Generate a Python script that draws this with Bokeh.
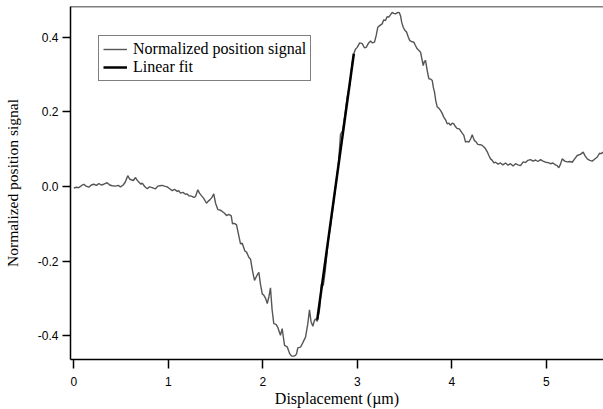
from bokeh.plotting import figure
from bokeh.models import Range1d, FixedTicker, Span, Legend, LegendItem
from bokeh.embed import file_html
from bokeh.resources import INLINE

displacement_um = [
    0.000, 0.027, 0.053, 0.080, 0.106, 0.130, 0.159, 0.185, 0.212, 0.240,
    0.265, 0.290, 0.317, 0.353, 0.380, 0.406, 0.440, 0.470, 0.494, 0.523,
    0.545, 0.571, 0.590, 0.607, 0.630, 0.653, 0.670, 0.688, 0.710, 0.724,
    0.750, 0.777, 0.800, 0.830, 0.850, 0.865, 0.889, 0.910, 0.935, 0.960,
    0.988, 1.015, 1.041, 1.065, 1.094, 1.110, 1.129, 1.155, 1.182, 1.200,
    1.217, 1.245, 1.270, 1.288, 1.312, 1.330, 1.348, 1.375, 1.404, 1.420,
    1.439, 1.460, 1.481, 1.500, 1.524, 1.545, 1.570, 1.595, 1.616, 1.640,
    1.666, 1.679, 1.700, 1.722, 1.740, 1.764, 1.782, 1.810, 1.828, 1.852,
    1.870, 1.890, 1.912, 1.935, 1.958, 1.975, 1.994, 2.011, 2.030, 2.047,
    2.065, 2.081, 2.098, 2.116, 2.140, 2.159, 2.175, 2.187, 2.205, 2.218,
    2.230, 2.258, 2.275, 2.286, 2.305, 2.328, 2.345, 2.357, 2.370, 2.399,
    2.425, 2.452, 2.475, 2.494, 2.510, 2.529, 2.545, 2.558, 2.576, 2.600,
    2.620, 2.640, 2.660, 2.690, 2.720, 2.760, 2.800, 2.822, 2.845, 2.870,
    2.893, 2.920, 2.945, 2.963, 2.980, 2.999, 3.025, 3.052, 3.075, 3.094,
    3.120, 3.140, 3.160, 3.182, 3.200, 3.217, 3.240, 3.263, 3.280, 3.298,
    3.315, 3.333, 3.350, 3.369, 3.385, 3.404, 3.429, 3.445, 3.457, 3.470,
    3.486, 3.505, 3.521, 3.540, 3.556, 3.580, 3.598, 3.615, 3.634, 3.650,
    3.669, 3.685, 3.697, 3.710, 3.722, 3.740, 3.757, 3.775, 3.793, 3.805,
    3.817, 3.830, 3.846, 3.862, 3.880, 3.898, 3.915, 3.935, 3.951, 3.970,
    3.986, 4.005, 4.021, 4.040, 4.057, 4.075, 4.092, 4.110, 4.127, 4.145,
    4.162, 4.180, 4.200, 4.216, 4.228, 4.240, 4.258, 4.275, 4.300, 4.322,
    4.340, 4.357, 4.375, 4.392, 4.410, 4.428, 4.445, 4.462, 4.490, 4.515,
    4.540, 4.568, 4.595, 4.621, 4.648, 4.674, 4.700, 4.727, 4.755, 4.780,
    4.805, 4.833, 4.860, 4.886, 4.912, 4.939, 4.965, 4.992, 5.020, 5.045,
    5.070, 5.097, 5.115, 5.132, 5.150, 5.168, 5.195, 5.221, 5.248, 5.274,
    5.300, 5.327, 5.360, 5.390, 5.410, 5.433, 5.460, 5.486, 5.510, 5.539,
    5.563, 5.580, 5.602,
]
position_signal = [
    -0.004, -0.002, -0.003, 0.002, 0.006, 0.001, -0.002, 0.004, 0.006, 0.003,
    0.008, 0.004, 0.006, 0.010, 0.004, 0.002, 0.001, 0.003, -0.001, 0.004,
    0.012, 0.029, 0.020, 0.018, 0.016, 0.024, 0.017, 0.012, 0.006, 0.009,
    0.000, -0.006, -0.001, -0.003, -0.005, -0.006, 0.001, 0.002, 0.003, 0.001,
    -0.001, -0.006, -0.011, -0.008, -0.013, -0.011, -0.018, -0.016, -0.021, -0.020,
    -0.025, -0.026, -0.029, -0.027, -0.009, -0.018, -0.024, -0.032, -0.045, -0.040,
    -0.036, -0.030, -0.020, -0.045, -0.062, -0.063, -0.067, -0.072, -0.078, -0.075,
    -0.079, -0.100, -0.099, -0.103, -0.125, -0.154, -0.152, -0.173, -0.176, -0.190,
    -0.195, -0.225, -0.252, -0.240, -0.230, -0.262, -0.288, -0.292, -0.300, -0.314,
    -0.295, -0.272, -0.330, -0.368, -0.370, -0.378, -0.390, -0.399, -0.381, -0.405,
    -0.426, -0.430, -0.442, -0.449, -0.455, -0.455, -0.453, -0.449, -0.433, -0.431,
    -0.418, -0.404, -0.370, -0.331, -0.362, -0.375, -0.360, -0.355, -0.362, -0.330,
    -0.262, -0.265, -0.228, -0.150, -0.100, -0.020, 0.060, 0.140, 0.150, 0.195,
    0.240, 0.272, 0.330, 0.356, 0.368, 0.373, 0.385, 0.383, 0.372, 0.373,
    0.385, 0.390, 0.385, 0.387, 0.405, 0.427, 0.432, 0.436, 0.447, 0.445,
    0.455, 0.454, 0.460, 0.467, 0.464, 0.463, 0.467, 0.466, 0.458, 0.440,
    0.427, 0.418, 0.414, 0.400, 0.391, 0.388, 0.387, 0.378, 0.369, 0.365,
    0.360, 0.340, 0.324, 0.335, 0.338, 0.310, 0.289, 0.288, 0.284, 0.265,
    0.253, 0.230, 0.213, 0.210, 0.204, 0.196, 0.186, 0.178, 0.168, 0.170,
    0.164, 0.170, 0.168, 0.160, 0.155, 0.155, 0.150, 0.143, 0.137, 0.119,
    0.121, 0.119, 0.128, 0.139, 0.130, 0.123, 0.119, 0.113, 0.112, 0.110,
    0.106, 0.101, 0.093, 0.083, 0.074, 0.070, 0.063, 0.065, 0.060, 0.063,
    0.058, 0.063, 0.057, 0.061, 0.055, 0.061, 0.058, 0.056, 0.066, 0.064,
    0.070, 0.072, 0.068, 0.071, 0.067, 0.072, 0.068, 0.065, 0.064, 0.061,
    0.063, 0.058, 0.056, 0.050, 0.060, 0.074, 0.068, 0.066, 0.067, 0.065,
    0.074, 0.083, 0.086, 0.092, 0.082, 0.074, 0.070, 0.068, 0.073, 0.079,
    0.089, 0.088, 0.092,
]
fit_x = [2.576, 2.963]
fit_y = [-0.357, 0.356]

x_ticks = [0, 1, 2, 3, 4, 5]
x_tick_labels = ["0", "1", "2", "3", "4", "5"]
y_ticks = [-0.4, -0.2, 0.0, 0.2, 0.4]
y_tick_labels = ["-0.4", "-0.2", "0.0", "0.2", "0.4"]

Y_TOP = 0.4826

p = figure(width=603, height=409, output_backend="svg", toolbar_location=None,
           x_range=Range1d(-0.035, 5.605), y_range=Range1d(-0.464, Y_TOP),
           min_border_left=70, min_border_right=0, min_border_top=6,
           min_border_bottom=50)
p.xgrid.visible = False
p.ygrid.visible = False
p.outline_line_color = None
p.background_fill_color = "white"
p.border_fill_color = "white"

r_sig = p.line(displacement_um, position_signal, line_color="#555555", line_width=1.4)
r_fit = p.line(fit_x, fit_y, line_color="black", line_width=2.5)

p.add_layout(Span(location=Y_TOP, dimension="width", line_color="black", line_width=1.5))

for ax in (p.xaxis[0], p.yaxis[0]):
    ax.axis_line_color = "black"
    ax.axis_line_width = 1.5
    ax.major_tick_line_color = "black"
    ax.major_tick_line_width = 1.5
    ax.major_tick_in = 0
    ax.minor_tick_line_color = None
    ax.major_label_text_font = "Liberation Sans"
    ax.major_label_text_font_size = "12px"
    ax.major_label_text_color = "black"
    ax.axis_label_text_font = "Liberation Serif"
    ax.axis_label_text_font_style = "normal"
    ax.axis_label_text_color = "black"

p.xaxis.ticker = FixedTicker(ticks=x_ticks)
p.xaxis.major_label_overrides = dict(zip(x_ticks, x_tick_labels))
p.xaxis.major_tick_out = 9
p.xaxis.major_label_standoff = 8
p.xaxis.axis_label = "Displacement (µm)"
p.xaxis.axis_label_text_font_size = "16px"
p.xaxis.axis_label_standoff = 1

p.yaxis.ticker = FixedTicker(ticks=y_ticks)
p.yaxis.major_label_overrides = dict(zip(y_ticks, y_tick_labels))
p.yaxis.major_tick_out = 8
p.yaxis.major_label_standoff = 4
p.yaxis.major_label_orientation = "horizontal"
p.yaxis.axis_label = "Normalized position signal"
p.yaxis.axis_label_text_font_size = "15.5px"
p.yaxis.axis_label_standoff = 14

legend = Legend(items=[
    LegendItem(label="Normalized position signal", renderers=[r_sig]),
    LegendItem(label="Linear fit", renderers=[r_fit]),
], location=(28, 278))
legend.border_line_color = "black"
legend.border_line_width = 1.2
legend.background_fill_color = "white"
legend.background_fill_alpha = 1
legend.padding = 4
legend.spacing = 0
legend.margin = 0
legend.label_height = 18
legend.glyph_height = 18
legend.glyph_width = 24
legend.label_standoff = 6
legend.label_text_font = "Liberation Serif"
legend.label_text_font_size = "16px"
legend.label_text_color = "black"
p.add_layout(legend, "center")

open("out.html", "w").write(file_html(p, INLINE))
